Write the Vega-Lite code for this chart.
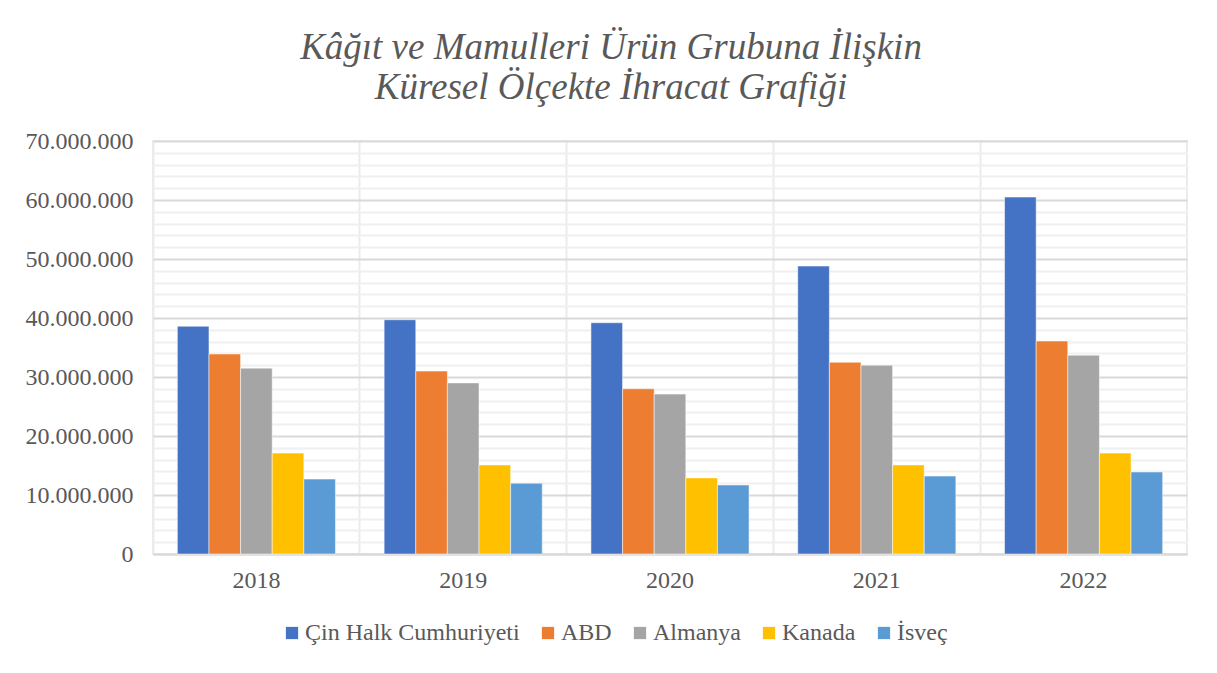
{
  "$schema": "https://vega.github.io/schema/vega-lite/v6.json",
  "autosize": {"type": "none"},
  "width": 1034,
  "height": 413,
  "padding": {"left": 153, "top": 141, "right": 30, "bottom": 119},
  "background": "white",
  "title": {
    "text": ["Kâğıt ve Mamulleri Ürün Grubuna İlişkin", "Küresel Ölçekte İhracat Grafiği"],
    "font": "Liberation Serif",
    "fontStyle": "italic",
    "fontWeight": "normal",
    "fontSize": 37,
    "lineHeight": 40,
    "color": "#595959",
    "anchor": "middle",
    "dx": -59,
    "offset": 22
  },
  "data": {
    "values": [
      {"yil": "2018", "ulke": "Çin Halk Cumhuriyeti", "deger": 38600000},
      {"yil": "2018", "ulke": "ABD", "deger": 33900000},
      {"yil": "2018", "ulke": "Almanya", "deger": 31500000},
      {"yil": "2018", "ulke": "Kanada", "deger": 17100000},
      {"yil": "2018", "ulke": "İsveç", "deger": 12700000},
      {"yil": "2019", "ulke": "Çin Halk Cumhuriyeti", "deger": 39700000},
      {"yil": "2019", "ulke": "ABD", "deger": 31000000},
      {"yil": "2019", "ulke": "Almanya", "deger": 29000000},
      {"yil": "2019", "ulke": "Kanada", "deger": 15100000},
      {"yil": "2019", "ulke": "İsveç", "deger": 12000000},
      {"yil": "2020", "ulke": "Çin Halk Cumhuriyeti", "deger": 39200000},
      {"yil": "2020", "ulke": "ABD", "deger": 28000000},
      {"yil": "2020", "ulke": "Almanya", "deger": 27100000},
      {"yil": "2020", "ulke": "Kanada", "deger": 12900000},
      {"yil": "2020", "ulke": "İsveç", "deger": 11700000},
      {"yil": "2021", "ulke": "Çin Halk Cumhuriyeti", "deger": 48800000},
      {"yil": "2021", "ulke": "ABD", "deger": 32500000},
      {"yil": "2021", "ulke": "Almanya", "deger": 32000000},
      {"yil": "2021", "ulke": "Kanada", "deger": 15100000},
      {"yil": "2021", "ulke": "İsveç", "deger": 13200000},
      {"yil": "2022", "ulke": "Çin Halk Cumhuriyeti", "deger": 60500000},
      {"yil": "2022", "ulke": "ABD", "deger": 36100000},
      {"yil": "2022", "ulke": "Almanya", "deger": 33700000},
      {"yil": "2022", "ulke": "Kanada", "deger": 17100000},
      {"yil": "2022", "ulke": "İsveç", "deger": 13900000}
    ]
  },
  "mark": {"type": "bar", "stroke": "white", "strokeWidth": 0.5},
  "encoding": {
    "x": {
      "field": "yil",
      "type": "nominal",
      "title": null,
      "scale": {"paddingInner": 0, "paddingOuter": 0},
      "axis": {
        "bandPosition": 0,
        "labelAngle": 0,
        "labelFont": "Liberation Serif",
        "labelFontSize": 24,
        "labelColor": "#595959",
        "labelPadding": 14,
        "ticks": false,
        "grid": true,
        "gridColor": "#ebebeb",
        "gridWidth": 2,
        "domainColor": "#d9d9d9",
        "domainWidth": 2
      }
    },
    "xOffset": {
      "field": "ulke",
      "type": "nominal",
      "sort": ["Çin Halk Cumhuriyeti", "ABD", "Almanya", "Kanada", "İsveç"],
      "scale": {"paddingInner": 0, "paddingOuter": 0.77}
    },
    "y": {
      "field": "deger",
      "type": "quantitative",
      "title": null,
      "scale": {"domain": [0, 70000000], "nice": false},
      "axis": {
        "values": [0, 2000000, 4000000, 6000000, 8000000, 10000000, 12000000, 14000000, 16000000, 18000000, 20000000, 22000000, 24000000, 26000000, 28000000, 30000000, 32000000, 34000000, 36000000, 38000000, 40000000, 42000000, 44000000, 46000000, 48000000, 50000000, 52000000, 54000000, 56000000, 58000000, 60000000, 62000000, 64000000, 66000000, 68000000, 70000000],
        "labelExpr": "datum.value % 10000000 === 0 ? replace(format(datum.value, ','), regexp(',', 'g'), '.') : ''",
        "labelFont": "Liberation Serif",
        "labelFontSize": 24,
        "labelColor": "#595959",
        "labelPadding": 20,
        "ticks": false,
        "domain": false,
        "grid": true,
        "gridWidth": 2,
        "gridColor": {"condition": {"test": "datum.value % 10000000 === 0", "value": "#d9d9d9"}, "value": "#f0f0f0"}
      }
    },
    "color": {
      "field": "ulke",
      "type": "nominal",
      "title": null,
      "sort": ["Çin Halk Cumhuriyeti", "ABD", "Almanya", "Kanada", "İsveç"],
      "scale": {
        "domain": ["Çin Halk Cumhuriyeti", "ABD", "Almanya", "Kanada", "İsveç"],
        "range": ["#4472C4", "#ED7D31", "#A5A5A5", "#FFC000", "#5B9BD5"]
      },
      "legend": {
        "orient": "none",
        "legendX": 127,
        "legendY": 480,
        "direction": "horizontal",
        "symbolType": "square",
        "symbolSize": 150,
        "symbolStrokeWidth": 0,
        "labelFont": "Liberation Serif",
        "labelFontSize": 24,
        "labelLimit": 0,
        "labelColor": "#595959",
        "columnPadding": 16,
        "labelOffset": 1
      }
    }
  },
  "config": {
    "view": {"stroke": "#ebebeb", "strokeWidth": 2}
  }
}
